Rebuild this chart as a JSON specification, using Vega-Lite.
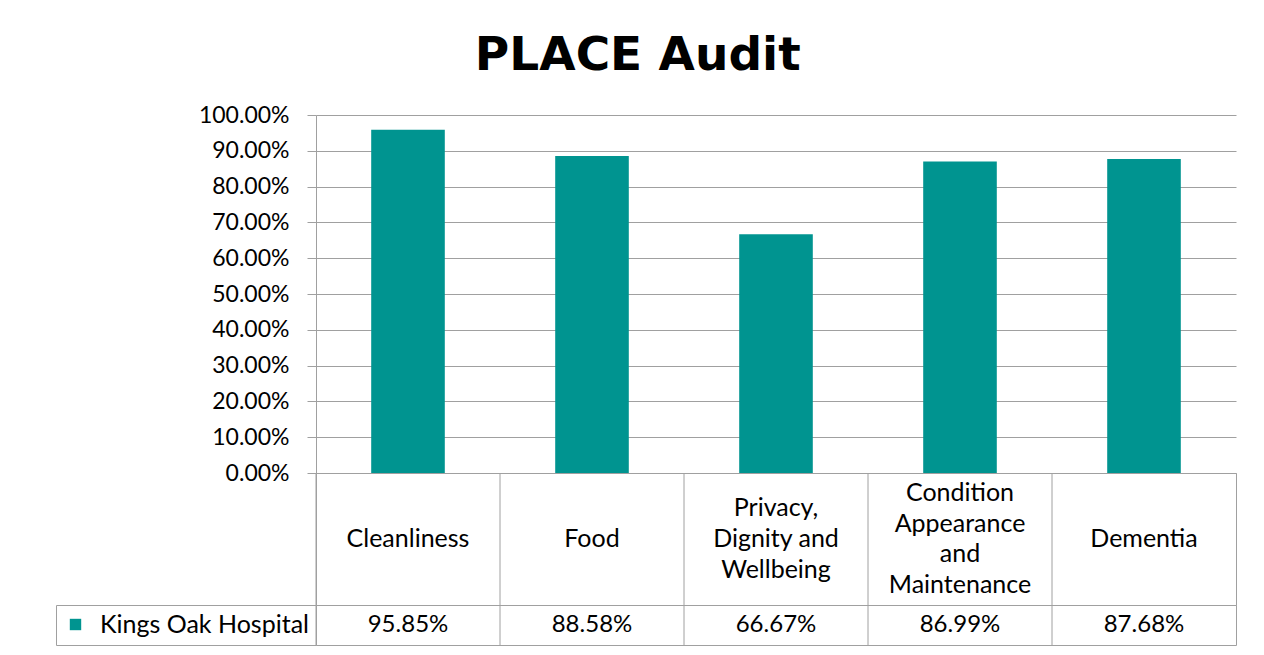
{
  "$schema": "https://vega.github.io/schema/vega-lite/v6.json",
  "background": "white",
  "padding": {"left": 55, "top": 32, "right": 5, "bottom": 5},
  "title": {"text": "PLACE Audit", "font": "DejaVu Sans", "fontSize": 47, "fontWeight": "bold", "color": "black", "anchor": "middle", "frame": "bounds", "offset": 24, "dx": -8},
  "datasets": {
    "scores": [
      {"cat": "Cleanliness", "lines": ["Cleanliness"], "value": 0.9585, "series": "Kings Oak Hospital"},
      {"cat": "Food", "lines": ["Food"], "value": 0.8858, "series": "Kings Oak Hospital"},
      {"cat": "Privacy, Dignity and Wellbeing", "lines": ["Privacy,", "Dignity and", "Wellbeing"], "value": 0.6667, "series": "Kings Oak Hospital"},
      {"cat": "Condition Appearance and Maintenance", "lines": ["Condition", "Appearance", "and", "Maintenance"], "value": 0.8699, "series": "Kings Oak Hospital"},
      {"cat": "Dementia", "lines": ["Dementia"], "value": 0.8768, "series": "Kings Oak Hospital"}
    ]
  },
  "spacing": 0,
  "bounds": "flush",
  "resolve": {"scale": {"color": "independent"}, "legend": {"color": "independent"}},
  "config": {
    "font": "Lato",
    "axis": {"labelFont": "Lato", "labelColor": "black"},
    "legend": {"labelFont": "Lato"}
  },
  "vconcat": [
    {
      "width": 920,
      "height": 358,
      "view": {"stroke": null},
      "data": {"name": "scores"},
      "mark": {"type": "bar", "color": "#009490"},
      "encoding": {
        "x": {"field": "cat", "type": "nominal", "sort": null, "axis": null,
              "scale": {"paddingInner": 0.6, "paddingOuter": 0.3}},
        "y": {"field": "value", "type": "quantitative",
              "scale": {"domain": [0, 1]},
              "axis": {"title": null, "format": ".2%", "values": [0, 0.1, 0.2, 0.3, 0.4, 0.5, 0.6, 0.7, 0.8, 0.9, 1],
                       "labelFontSize": 23, "labelPadding": 18, "tickSize": 9, "tickColor": "#a0a0a0",
                       "domainColor": "#a0a0a0", "gridColor": "#a0a0a0", "grid": true}}
      }
    },
    {
      "width": 920,
      "height": 132,
      "view": {"stroke": "#a0a0a0"},
      "data": {"name": "scores"},
      "encoding": {
        "x": {"field": "cat", "type": "nominal", "sort": null, "axis": null,
              "scale": {"paddingInner": 0, "paddingOuter": 0}}
      },
      "layer": [
        {"mark": {"type": "rule", "color": "#a0a0a0"},
         "encoding": {"x": {"field": "cat", "type": "nominal", "sort": null, "bandPosition": 0}}},
        {"transform": [{"filter": "length(datum.lines) == 1"}],
         "mark": {"type": "text", "fontSize": 25, "lineHeight": 30.7, "baseline": "middle", "align": "center", "color": "black"},
         "encoding": {"text": {"field": "lines"}}},
        {"transform": [{"filter": "length(datum.lines) == 3"}],
         "mark": {"type": "text", "fontSize": 25, "lineHeight": 30.7, "baseline": "middle", "align": "center", "color": "black", "dy": -30.7},
         "encoding": {"text": {"field": "lines"}}},
        {"transform": [{"filter": "length(datum.lines) == 4"}],
         "mark": {"type": "text", "fontSize": 25, "lineHeight": 30.7, "baseline": "middle", "align": "center", "color": "black", "dy": -46},
         "encoding": {"text": {"field": "lines"}}}
      ]
    },
    {
      "width": 920,
      "height": 40,
      "view": {"stroke": "#a0a0a0"},
      "data": {"name": "scores"},
      "encoding": {
        "x": {"field": "cat", "type": "nominal", "sort": null, "axis": null,
              "scale": {"paddingInner": 0, "paddingOuter": 0}}
      },
      "layer": [
        {"mark": {"type": "rule", "color": "#a0a0a0"},
         "encoding": {"x": {"field": "cat", "type": "nominal", "sort": null, "bandPosition": 0}}},
        {"mark": {"type": "square", "opacity": 0},
         "encoding": {"color": {"field": "series", "type": "nominal",
                                "scale": {"range": ["#009490"]},
                                "legend": {"title": null, "orient": "left", "offset": 0, "strokeColor": "#a0a0a0",
                                           "padding": 7, "symbolType": "square", "symbolSize": 130, "symbolOpacity": 1,
                                           "symbolStrokeWidth": 0, "labelFontSize": 25, "labelColor": "black",
                                           "labelOffset": 12, "labelLimit": 0}}}},
        {"mark": {"type": "text", "fontSize": 24, "baseline": "middle", "align": "center", "color": "black"},
         "encoding": {"text": {"field": "value", "type": "quantitative", "format": ".2%"}}}
      ]
    }
  ]
}
